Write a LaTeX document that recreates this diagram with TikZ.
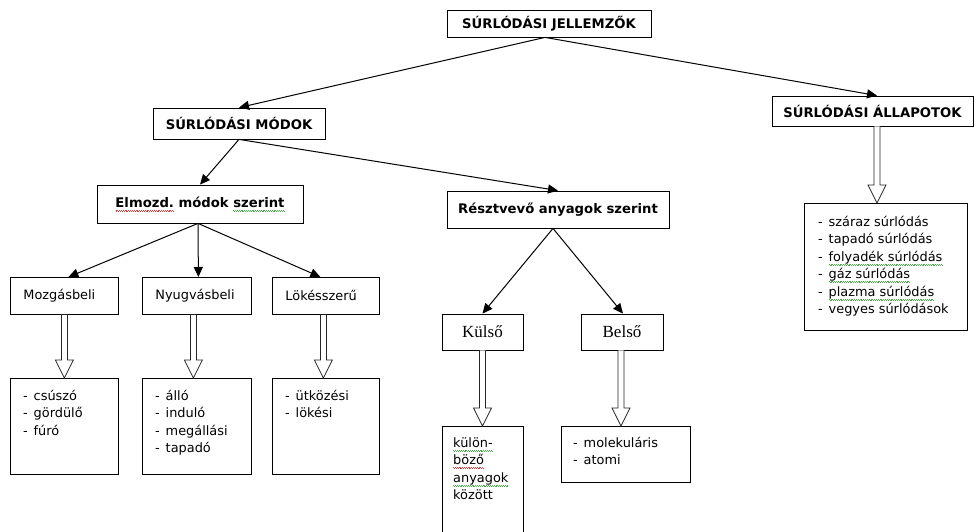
\documentclass[tikz,border=0pt]{standalone}
\usepackage{fontspec}
\setmainfont{DejaVu Sans}
\newfontfamily\serifk{Liberation Serif}
\usetikzlibrary{arrows.meta,calc}
\definecolor{wred}{RGB}{225,60,60}
\definecolor{wgreen}{RGB}{70,175,70}
\newsavebox\wvbox
\newcommand\wavy[2]{\sbox\wvbox{#2}\usebox\wvbox\llap{\textcolor{#1}{\hbox to\wd\wvbox{\xleaders\hbox{\vrule width0.9pt height-2.6pt depth3.4pt\vrule width0.9pt height-3.4pt depth4.2pt}\hfil}}}}
\newcommand\redw[1]{\wavy{wred}{#1}}
\newcommand\grnw[1]{\wavy{wgreen}{#1}}
\newcommand\tfont{\fontsize{13.2}{16}\selectfont\bfseries}
\newcommand\lfont{\fontsize{12.9}{17.5}\selectfont}
\newcommand\dsh{\makebox[10.5pt][l]{-}}
\newcommand\blockarr[2]{\draw[barrow] let \p1=(#1), \p2=(#2) in
  (\x1-3pt,\y1) -- (\x1-3pt,\y2+18pt) -- (\x1-9pt,\y2+18pt) -- (\x1,\y2)
  -- (\x1+9pt,\y2+18pt) -- (\x1+3pt,\y2+18pt) -- (\x1+3pt,\y1);}
\tikzset{
  box/.style={draw=black, line width=0.8pt, rectangle, inner sep=0pt, fill=white},
  ttl/.style={box, font=\tfont, align=center},
  lbox/.style={box, anchor=north west, align=left, font=\lfont, inner xsep=13pt},
  ebox/.style={box, anchor=north west},
  ltxt/.style={anchor=north west, inner sep=0pt, align=left, font=\lfont},
  sbox/.style={box, font=\serifk\fontsize{17}{20}\selectfont},
  conn/.style={line width=1pt, -{Triangle[length=10pt,width=9pt]}},
  barrow/.style={draw=black!85, line width=0.8pt, fill=white, line join=miter},
}
\begin{document}
\begin{tikzpicture}[x=1pt,y=-1pt]
\useasboundingbox (0,0) rectangle (978,532);
\clip (0,0) rectangle (978,532);
% title level
\node[ttl, minimum width=204pt, minimum height=27pt] (top) at (549,23.5) {SÚRLÓDÁSI JELLEMZŐK};
\node[ttl, minimum width=172pt, minimum height=31pt] (modok) at (239,123.5) {SÚRLÓDÁSI MÓDOK};
\node[ttl, minimum width=201pt, minimum height=30pt] (allapot) at (872.5,111) {SÚRLÓDÁSI ÁLLAPOTOK};
\node[ttl, minimum width=206pt, minimum height=38pt] (elmozd) at (200,204) {\redw{Elmozd.} módok \grnw{szerint}};
\node[ttl, minimum width=222pt, minimum height=37pt] (reszt) at (558,209.5) {Résztvevő anyagok szerint};
% third level
\node[lbox, text width=82pt, minimum height=37pt] (mozg) at (10,277) {Mozgásbeli};
\node[lbox, text width=83pt, minimum height=37pt] (nyugv) at (142,277) {Nyugvásbeli};
\node[lbox, text width=81pt, minimum height=37pt] (lokes) at (272,277) {Lökésszerű};
\node[sbox, minimum width=81pt, minimum height=36pt] (kulso) at (482.5,332) {Külső};
\node[sbox, minimum width=82pt, minimum height=36pt] (belso) at (622,332) {Belső};
% list boxes
\node[ebox, minimum width=108pt, minimum height=96pt] (mozgL) at (10,378) {};
\node[ebox, minimum width=109pt, minimum height=96pt] (nyugvL) at (142,378) {};
\node[ebox, minimum width=107pt, minimum height=96pt] (lokesL) at (272,378) {};
\node[ebox, minimum width=81pt, minimum height=130pt] (kulsoL) at (442,426) {};
\node[ebox, minimum width=129pt, minimum height=56pt] (belsoL) at (561,426) {};
\node[ebox, minimum width=163pt, minimum height=127pt] (allapotL) at (804,203) {};
% list texts
\node[ltxt] (mozgT) at ($(mozgL.north west)+(13,9.75)$) {\strut\dsh csúszó\\\dsh gördülő\\\dsh fúró};
\node[ltxt] (nyugvT) at ($(nyugvL.north west)+(13,9.75)$) {\strut\dsh álló\\\dsh induló\\\dsh megállási\\\dsh tapadó};
\node[ltxt] (lokesT) at ($(lokesL.north west)+(13,9.75)$) {\strut\dsh ütközési\\\dsh lökési};
\node[ltxt] (kulsoT) at ($(kulsoL.north west)+(11,8.75)$) {\strut\grnw{külön-}\\\redw{böző}\\\grnw{anyagok}\\között};
\node[ltxt] (belsoT) at ($(belsoL.north west)+(12,8.75)$) {\strut\dsh molekuláris\\\dsh atomi};
\node[ltxt] (allapotT) at ($(allapotL.north west)+(14,10.75)$) {\strut\dsh száraz súrlódás\\\dsh tapadó súrlódás\\\dsh \grnw{folyadék súrlódás}\\\dsh \grnw{gáz súrlódás}\\\dsh \grnw{plazma súrlódás}\\\dsh vegyes súrlódások};
% connectors
\coordinate (topo) at ($(top.south)+(-4,0)$);
\draw[conn] (topo) -- (modok.north);
\draw[conn] (topo) -- ($(allapot.north)+(4.5,0)$);
\draw[conn] (modok.south) -- (elmozd.north);
\draw[conn] (modok.south) -- (reszt.north);
\coordinate (elo) at ($(elmozd.south)+(-2,0)$);
\draw[conn] (elo) -- ($(mozg.north)+(4,0)$);
\draw[conn] (elo) -- ($(nyugv.north)+(1.5,0)$);
\draw[conn] (elo) -- ($(lokes.north)+(-5.5,0)$);
\coordinate (reo) at ($(reszt.south)+(-5,0)$);
\draw[conn] (reo) -- (kulso.north);
\draw[conn] (reo) -- ($(belso.north)+(1,0)$);
% block arrows
\blockarr{mozg.south}{mozgL.north}
\blockarr{$(nyugv.south)+(-3.5,0)$}{nyugvL.north}
\blockarr{$(lokes.south)+(-2.5,0)$}{lokesL.north}
\blockarr{kulso.south}{kulsoL.north}
\blockarr{$(belso.south)+(-1,0)$}{belsoL.north}
\blockarr{$(allapot.south)+(4.5,0)$}{allapotL.north}
\end{tikzpicture}
\end{document}
